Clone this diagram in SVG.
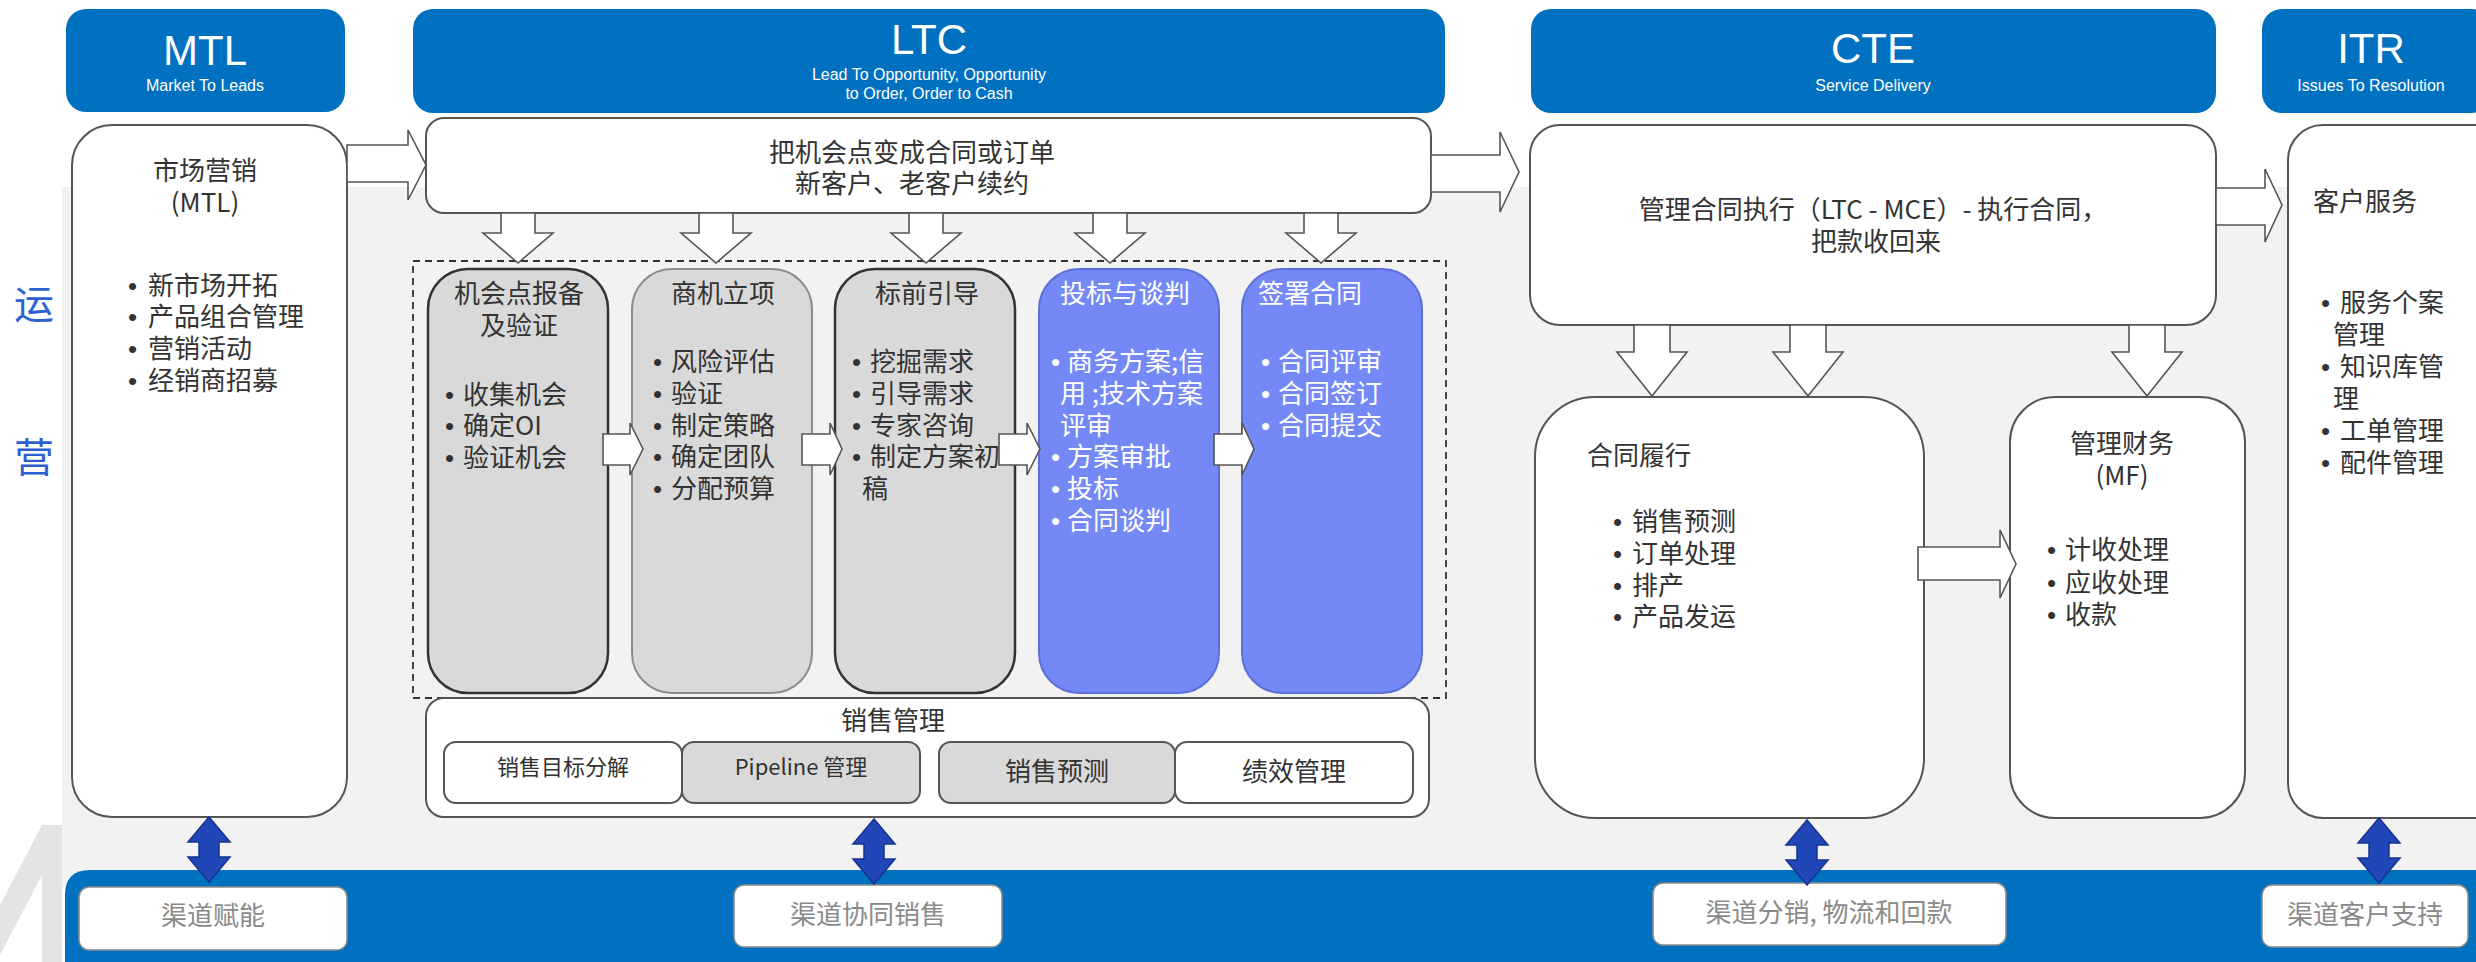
<svg xmlns="http://www.w3.org/2000/svg" width="2476" height="962" viewBox="0 0 2476 962">
<style>
.hdr{fill:#0070c0}
.ht{font-family:"Liberation Sans","Noto Sans",sans-serif;fill:#fff;text-anchor:middle}
.big{font-size:42px}
.sub{font-size:16px}
.box{fill:#fff;stroke:#555;stroke-width:2}
.t{font-family:"Noto Sans CJK SC","Noto Sans",sans-serif;font-size:26px;fill:#333}
.bl{font-family:"Liberation Sans",sans-serif}
.s22{font-size:22px}
.c{text-anchor:middle}
.w{fill:#fff}
.arr{fill:#fff;stroke:#555;stroke-width:1.6;stroke-linejoin:miter}
.col{fill:#d9d9d9;stroke:#333;stroke-width:2.5}
.col2{fill:#d9d9d9;stroke:#8c8c8c;stroke-width:2}
.colb{fill:#7489f5;stroke:#5c6fd6;stroke-width:2}
.dbl{fill:#2146b8;stroke:#16338f;stroke-width:1.5}
.lbl{fill:#fff;stroke:#8a8a8a;stroke-width:1.5}
.lt{fill:#8a8a8a}
.sb{fill:#fff;stroke:#555;stroke-width:2}
.sg{fill:#d9d9d9;stroke:#555;stroke-width:2}
</style>

<!-- background -->
<rect x="62" y="187" width="2414" height="700" fill="#f2f2f2"/>
<polygon points="0,905 42,825 62,825 62,962 42,962 42,875 0,955" fill="#e4e4e4"/>
<path d="M65,895 Q65,870 90,870 H2476 V962 H65 Z" fill="#0070c0"/>
<text class="t" x="34" y="319" text-anchor="middle" style="font-size:40px;fill:#2e5fd2">运</text>
<text class="t" x="34" y="472" text-anchor="middle" style="font-size:40px;fill:#2e5fd2">营</text>

<!-- headers -->
<g id="hdr-mtl">
<rect class="hdr" x="66" y="9" width="279" height="103" rx="20"/>
<text class="ht big" x="205" y="65">MTL</text>
<text class="ht sub" x="205" y="91">Market To Leads</text>
</g>
<g id="hdr-ltc">
<rect class="hdr" x="413" y="9" width="1032" height="104" rx="20"/>
<text class="ht big" x="929" y="54">LTC</text>
<text class="ht sub" x="929" y="80">Lead To Opportunity, Opportunity</text>
<text class="ht sub" x="929" y="99">to Order, Order to Cash</text>
</g>
<g id="hdr-cte">
<rect class="hdr" x="1531" y="9" width="685" height="104" rx="20"/>
<text class="ht big" x="1873" y="63">CTE</text>
<text class="ht sub" x="1873" y="91">Service Delivery</text>
</g>
<g id="hdr-itr">
<rect class="hdr" x="2262" y="9" width="230" height="104" rx="20"/>
<text class="ht big" x="2371" y="63">ITR</text>
<text class="ht sub" x="2371" y="91">Issues To Resolution</text>
</g>

<!-- MTL box -->
<g id="mtl">
<rect class="box" x="72" y="125" width="275" height="692" rx="40"/>
<text class="t c" x="205" y="180">市场营销</text>
<text class="t c" x="205" y="212">(MTL)</text>
<text class="t" y="295"><tspan class="bl" x="128">•</tspan><tspan x="148">新市场开拓</tspan></text>
<text class="t" y="326"><tspan class="bl" x="128">•</tspan><tspan x="148">产品组合管理</tspan></text>
<text class="t" y="358"><tspan class="bl" x="128">•</tspan><tspan x="148">营销活动</tspan></text>
<text class="t" y="390"><tspan class="bl" x="128">•</tspan><tspan x="148">经销商招募</tspan></text>
</g>

<!-- LTC top box -->
<g id="ltc-main">
<rect class="box" x="426" y="118" width="1005" height="95" rx="18"/>
<text class="t c" x="912" y="162">把机会点变成合同或订单</text>
<text class="t c" x="912" y="193">新客户、老客户续约</text>
</g>

<!-- dashed container -->
<rect x="413" y="261" width="1033" height="437" fill="none" stroke="#333" stroke-width="1.8" stroke-dasharray="7,5"/>

<g id="col1">
<rect class="col" x="428" y="269" width="180" height="424" rx="40"/>
<text class="t c" x="519" y="303">机会点报备</text>
<text class="t c" x="519" y="335">及验证</text>
<text class="t" y="404"><tspan class="bl" x="445">•</tspan><tspan x="463">收集机会</tspan></text>
<text class="t" y="435"><tspan class="bl" x="445">•</tspan><tspan x="463">确定OI</tspan></text>
<text class="t" y="467"><tspan class="bl" x="445">•</tspan><tspan x="463">验证机会</tspan></text>
</g>
<g id="col2">
<rect class="col2" x="632" y="269" width="180" height="424" rx="40"/>
<text class="t c" x="723" y="303">商机立项</text>
<text class="t" y="371"><tspan class="bl" x="653">•</tspan><tspan x="671">风险评估</tspan></text>
<text class="t" y="403"><tspan class="bl" x="653">•</tspan><tspan x="671">验证</tspan></text>
<text class="t" y="435"><tspan class="bl" x="653">•</tspan><tspan x="671">制定策略</tspan></text>
<text class="t" y="466"><tspan class="bl" x="653">•</tspan><tspan x="671">确定团队</tspan></text>
<text class="t" y="498"><tspan class="bl" x="653">•</tspan><tspan x="671">分配预算</tspan></text>
</g>
<g id="col3">
<rect class="col" x="835" y="269" width="180" height="424" rx="40"/>
<text class="t c" x="927" y="303">标前引导</text>
<text class="t" y="371"><tspan class="bl" x="852">•</tspan><tspan x="870">挖掘需求</tspan></text>
<text class="t" y="403"><tspan class="bl" x="852">•</tspan><tspan x="870">引导需求</tspan></text>
<text class="t" y="435"><tspan class="bl" x="852">•</tspan><tspan x="870">专家咨询</tspan></text>
<text class="t" y="466"><tspan class="bl" x="852">•</tspan><tspan x="870">制定方案初</tspan></text>
<text class="t" x="862" y="498">稿</text>
</g>
<g id="col4">
<rect class="colb" x="1039" y="269" width="180" height="424" rx="40"/>
<text class="t w" x="1060" y="303">投标与谈判</text>
<text class="t w" y="371"><tspan class="bl" x="1051">•</tspan><tspan x="1067">商务方案;信</tspan></text>
<text class="t w" x="1060" y="403">用 ;技术方案</text>
<text class="t w" x="1060" y="435">评审</text>
<text class="t w" y="466"><tspan class="bl" x="1051">•</tspan><tspan x="1067">方案审批</tspan></text>
<text class="t w" y="498"><tspan class="bl" x="1051">•</tspan><tspan x="1067">投标</tspan></text>
<text class="t w" y="530"><tspan class="bl" x="1051">•</tspan><tspan x="1067">合同谈判</tspan></text>
</g>
<g id="col5">
<rect class="colb" x="1242" y="269" width="180" height="424" rx="40"/>
<text class="t w" x="1258" y="303">签署合同</text>
<text class="t w" y="371"><tspan class="bl" x="1261">•</tspan><tspan x="1278">合同评审</tspan></text>
<text class="t w" y="403"><tspan class="bl" x="1261">•</tspan><tspan x="1278">合同签订</tspan></text>
<text class="t w" y="435"><tspan class="bl" x="1261">•</tspan><tspan x="1278">合同提交</tspan></text>
</g>

<!-- sales management -->
<g id="sales">
<rect class="box" x="426" y="698" width="1003" height="119" rx="18"/>
<text class="t c" x="893" y="730">销售管理</text>
<rect class="sb" x="444" y="742" width="238" height="61" rx="12"/>
<text class="t c s22" x="563" y="775">销售目标分解</text>
<rect class="sg" x="682" y="742" width="238" height="61" rx="12"/>
<text class="t c s22" x="801" y="775">Pipeline 管理</text>
<rect class="sg" x="939" y="742" width="236" height="61" rx="12"/>
<text class="t c" x="1057" y="781">销售预测</text>
<rect class="sb" x="1175" y="742" width="238" height="61" rx="12"/>
<text class="t c" x="1294" y="781">绩效管理</text>
</g>

<!-- CTE -->
<g id="cte-main">
<rect class="box" x="1530" y="125" width="686" height="200" rx="30"/>
<text class="t c" x="1873" y="219">管理合同执行（LTC - MCE）- 执行合同，</text>
<text class="t c" x="1876" y="251">把款收回来</text>
</g>
<g id="cte-fulfil">
<rect class="box" x="1535" y="397" width="389" height="421" rx="60"/>
<text class="t" x="1587" y="465">合同履行</text>
<text class="t" y="531"><tspan class="bl" x="1613">•</tspan><tspan x="1632">销售预测</tspan></text>
<text class="t" y="563"><tspan class="bl" x="1613">•</tspan><tspan x="1632">订单处理</tspan></text>
<text class="t" y="595"><tspan class="bl" x="1613">•</tspan><tspan x="1632">排产</tspan></text>
<text class="t" y="626"><tspan class="bl" x="1613">•</tspan><tspan x="1632">产品发运</tspan></text>
</g>
<g id="cte-mf">
<rect class="box" x="2010" y="397" width="235" height="421" rx="45"/>
<text class="t c" x="2122" y="453">管理财务</text>
<text class="t c" x="2122" y="485">(MF)</text>
<text class="t" y="559"><tspan class="bl" x="2047">•</tspan><tspan x="2065">计收处理</tspan></text>
<text class="t" y="592"><tspan class="bl" x="2047">•</tspan><tspan x="2065">应收处理</tspan></text>
<text class="t" y="624"><tspan class="bl" x="2047">•</tspan><tspan x="2065">收款</tspan></text>
</g>

<!-- ITR -->
<g id="itr">
<rect class="box" x="2288" y="125" width="230" height="693" rx="35"/>
<text class="t" x="2313" y="211">客户服务</text>
<text class="t" y="312"><tspan class="bl" x="2321">•</tspan><tspan x="2340">服务个案</tspan></text>
<text class="t" x="2333" y="344">管理</text>
<text class="t" y="376"><tspan class="bl" x="2321">•</tspan><tspan x="2340">知识库管</tspan></text>
<text class="t" x="2333" y="408">理</text>
<text class="t" y="440"><tspan class="bl" x="2321">•</tspan><tspan x="2340">工单管理</tspan></text>
<text class="t" y="472"><tspan class="bl" x="2321">•</tspan><tspan x="2340">配件管理</tspan></text>
</g>

<!-- bottom labels -->
<g id="lbl1"><rect class="lbl" x="79" y="887" width="268" height="63" rx="10"/><text class="t c lt" x="213" y="925">渠道赋能</text></g>
<g id="lbl2"><rect class="lbl" x="734" y="885" width="268" height="62" rx="10"/><text class="t c lt" x="868" y="924">渠道协同销售</text></g>
<g id="lbl3"><rect class="lbl" x="1653" y="883" width="353" height="62" rx="10"/><text class="t c lt" x="1829" y="922">渠道分销, 物流和回款</text></g>
<g id="lbl4"><rect class="lbl" x="2262" y="885" width="206" height="62" rx="10"/><text class="t c lt" x="2365" y="924">渠道客户支持</text></g>

<!-- connectors -->
<g id="connectors">
<polygon class="arr" points="347,145 408,145 408,130 426,165 408,200 408,182 347,182"/>
<polygon class="arr" points="1431,155 1500,155 1500,132 1519,172 1500,212 1500,192 1431,192"/>
<polygon class="arr" points="2216,188 2265,188 2265,169 2282,205 2265,242 2265,225 2216,225"/>
<polygon class="arr" points="1918,547 2000,547 2000,530 2016,564 2000,598 2000,580 1918,580"/>

<polygon class="arr" points="501,213 535,213 535,233 553,233 518,263 483,233 501,233"/>
<polygon class="arr" points="699,213 733,213 733,233 751,233 716,263 681,233 699,233"/>
<polygon class="arr" points="909,213 943,213 943,233 961,233 926,263 891,233 909,233"/>
<polygon class="arr" points="1093,213 1127,213 1127,233 1145,233 1110,263 1075,233 1093,233"/>
<polygon class="arr" points="1304,213 1338,213 1338,233 1356,233 1321,263 1286,233 1304,233"/>

<polygon class="arr" points="1634,325 1670,325 1670,352 1687,352 1652,396 1617,352 1634,352"/>
<polygon class="arr" points="1790,325 1826,325 1826,352 1843,352 1808,396 1773,352 1790,352"/>
<polygon class="arr" points="2129,325 2165,325 2165,352 2182,352 2147,396 2112,352 2129,352"/>

<polygon class="arr" points="603,434 630,434 630,423 643,449 630,475 630,465 603,465"/>
<polygon class="arr" points="802,434 830,434 830,423 842,449 830,475 830,465 802,465"/>
<polygon class="arr" points="999,434 1027,434 1027,423 1040,449 1027,475 1027,465 999,465"/>
<polygon class="arr" points="1214,434 1242,434 1242,423 1254,449 1242,475 1242,465 1214,465"/>

<polygon class="dbl" points="209,817 230,842 219,842 219,857 230,857 209,882 188,857 199,857 199,842 188,842"/>
<polygon class="dbl" points="874,819 895,844 884,844 884,859 895,859 874,884 853,859 864,859 864,844 853,844"/>
<polygon class="dbl" points="1807,820 1828,845 1817,845 1817,860 1828,860 1807,885 1786,860 1797,860 1797,845 1786,845"/>
<polygon class="dbl" points="2379,818 2400,843 2389,843 2389,858 2400,858 2379,883 2358,858 2369,858 2369,843 2358,843"/>
</g>
</svg>
